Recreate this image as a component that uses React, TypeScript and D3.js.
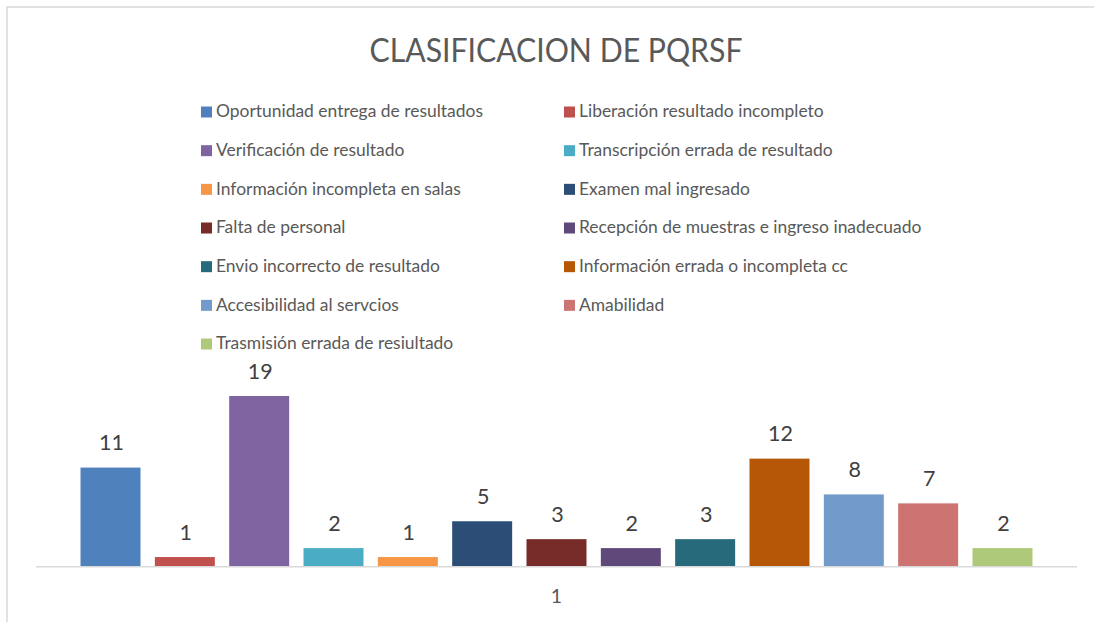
import React from "react";
import * as d3 from "d3";

const title = "CLASIFICACION DE PQRSF";
const categoryLabel = "1";
const seriesNames = [
  "Oportunidad entrega de resultados",
  "Liberación resultado incompleto",
  "Verificación de resultado",
  "Transcripción errada de resultado",
  "Información incompleta en salas",
  "Examen mal ingresado",
  "Falta de personal",
  "Recepción de muestras e ingreso inadecuado",
  "Envio incorrecto de resultado",
  "Información errada o incompleta cc",
  "Accesibilidad al servcios",
  "Amabilidad",
  "Trasmisión errada de resiultado",
];
const seriesValues = [11, 1, 19, 2, 1, 5, 3, 2, 3, 12, 8, 7, 2];
const seriesColors = [
  "#4F81BD", "#C0504D", "#8064A2", "#4BACC6", "#F79646", "#2C4D75",
  "#772C2A", "#5F497A", "#276A7C", "#B65708", "#729ACA", "#CD7371", "#AFC97A",
];

const W = 1094;
const H = 622;
const FONT = "Lato, 'Open Sans', sans-serif";

export default function App() {
  const plotLeft = 36;
  const plotRight = 1077;
  const baseline = 566;

  const x = d3
    .scaleBand<number>()
    .domain(d3.range(seriesValues.length))
    .range([plotLeft, plotRight])
    .paddingInner(0.193)
    .paddingOuter(0.599);

  const y = d3.scaleLinear().domain([0, 19]).range([baseline, 396]);

  const legendRowStep = 38.67;
  const legendTop = 106.5;
  const colX = [201, 564];

  return (
    <svg
      width={W}
      height={H}
      style={{ position: "absolute", left: 0, top: 0, background: "#fff" }}
    >
      <rect x={0} y={0} width={W} height={H} fill="#fff" />
      <path d={`M7,${H + 5} L7,7 L${W + 5},7`} fill="none" stroke="#d9d9d9" strokeWidth={1.5} />

      <text
        x={556}
        y={61.5}
        textAnchor="middle"
        fontFamily={FONT}
        fontSize={32.5}
        fill="#595959"
        textLength={373}
        lengthAdjust="spacingAndGlyphs"
      >
        {title}
      </text>

      {seriesNames.map((name, i) => {
        const col = i % 2;
        const row = Math.floor(i / 2);
        const sx = colX[col];
        const sy = legendTop + row * legendRowStep;
        return (
          <g key={name}>
            <rect x={sx} y={sy} width={11} height={11} fill={seriesColors[i]} />
            <text
              x={sx + 15}
              y={sy + 10.7}
              fontFamily={FONT}
              fontSize={17.45}
              fill="#595959"
            >
              {name}
            </text>
          </g>
        );
      })}

      {seriesValues.map((v, i) => (
        <g key={i}>
          <rect
            x={x(i)!}
            y={y(v)}
            width={x.bandwidth()}
            height={baseline - y(v)}
            fill={seriesColors[i]}
          />
          <text
            x={x(i)! + x.bandwidth() / 2 + 1}
            y={y(v) - 17.3}
            textAnchor="middle"
            fontFamily={FONT}
            fontSize={21.5}
            fill="#404040"
          >
            {v}
          </text>
        </g>
      ))}

      <line
        x1={plotLeft}
        x2={plotRight}
        y1={baseline + 0.8}
        y2={baseline + 0.8}
        stroke="#d9d9d9"
        strokeWidth={1.6}
      />

      <text
        x={(plotLeft + plotRight) / 2}
        y={603}
        textAnchor="middle"
        fontFamily={FONT}
        fontSize={19.5}
        fill="#595959"
      >
        {categoryLabel}
      </text>
    </svg>
  );
}
